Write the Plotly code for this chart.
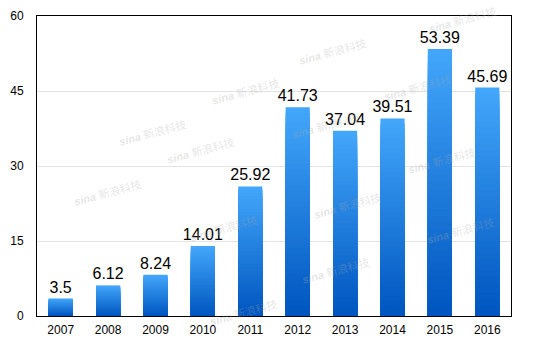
import plotly.graph_objects as go

years = ["2007", "2008", "2009", "2010", "2011", "2012", "2013", "2014", "2015", "2016"]
values = [3.5, 6.12, 8.24, 14.01, 25.92, 41.73, 37.04, 39.51, 53.39, 45.69]
labels = ["3.5", "6.12", "8.24", "14.01", "25.92", "41.73", "37.04", "39.51", "53.39", "45.69"]
y_ticks = [0, 15, 30, 45, 60]

W, H = 533, 344
ML, MR, MT, MB = 37, 22, 16, 28

top_rgb = (66, 166, 250)
bot_rgb = (0, 86, 192)
N = 40

fig = go.Figure()
for k in range(N):
    t = k / (N - 1)
    c = tuple(round(top_rgb[i] + (bot_rgb[i] - top_rgb[i]) * t) for i in range(3))
    frac = (N - k) / N
    fig.add_trace(go.Bar(
        x=years,
        y=[v * frac for v in values],
        marker=dict(color="rgb(%d,%d,%d)" % c, line=dict(width=0)),
        text=labels if k == 0 else None,
        textposition="outside" if k == 0 else "none",
        constraintext="none",
        textfont=dict(size=16, color="#000000", family="Helvetica, Arial, Liberation Sans"),
        cliponaxis=False,
        hoverinfo="skip",
        showlegend=False,
    ))

# faint watermarks (pixel centres in the picture)
wm_px = [(245, 74), (115, 115), (200, 150), (70, 192), (370, 34), (455, 70),
         (325, 108), (347, 205), (479, 160), (498, 248), (373, 288), (223, 246),
         (243, 330), (500, 2)]
pw = W - ML - MR
ph = H - MT - MB
annotations = []
for px, py in wm_px:
    annotations.append(dict(
        x=(px - ML) / pw, y=(H - MB - py) / ph, xref="paper", yref="paper",
        text="<b><i>sina</i></b> 新浪科技", showarrow=False, textangle=-15,
        font=dict(size=11, color="rgba(170,170,170,0.3)",
                  family="Liberation Sans, Noto Sans CJK SC"),
    ))

fig.update_layout(
    width=W, height=H,
    margin=dict(l=ML, r=MR, t=MT, b=MB, autoexpand=False),
    barmode="overlay",
    bargap=0.49,
    plot_bgcolor="white",
    paper_bgcolor="white",
    font=dict(family="Helvetica, Arial, Liberation Sans", size=12, color="#000000"),
    annotations=annotations,
    xaxis=dict(
        automargin=False,
        showline=True, linecolor="#000000", linewidth=1, mirror=True,
        ticks="outside", ticklen=3, tickcolor="rgba(0,0,0,0)",
        showgrid=False, tickfont=dict(size=12),
    ),
    yaxis=dict(
        automargin=False,
        range=[0, 60], tickvals=y_ticks,
        showline=True, linecolor="#000000", linewidth=1, mirror=True,
        showgrid=True, gridcolor="#e3e3e3", gridwidth=1,
        ticks="", ticklabelstandoff=10, tickfont=dict(size=12),
        zeroline=False,
    ),
)

fig.write_html("out.html")
